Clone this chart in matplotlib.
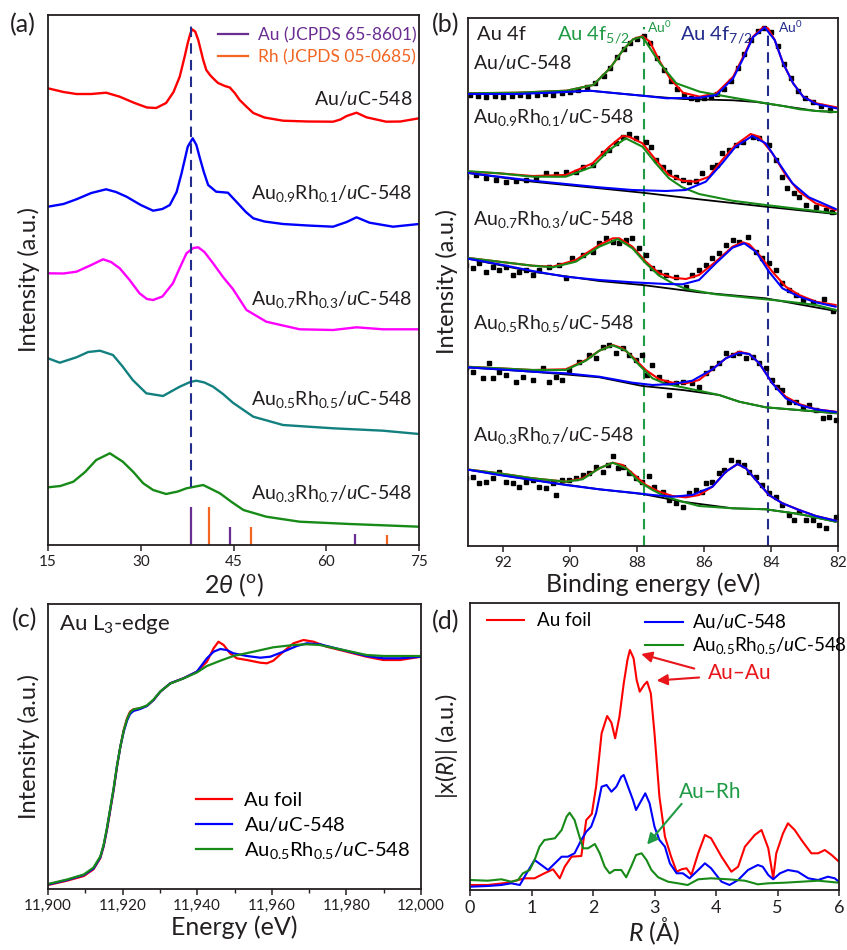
import matplotlib
matplotlib.use("Agg")
import matplotlib.pyplot as plt
from matplotlib.lines import Line2D
from matplotlib.ticker import MultipleLocator, StrMethodFormatter

plt.rcParams['font.family'] = ['Lato', 'DejaVu Sans']
plt.rcParams['mathtext.fontset'] = 'custom'
plt.rcParams['mathtext.rm'] = 'Lato'
plt.rcParams['mathtext.it'] = 'Lato:italic'
plt.rcParams['mathtext.bf'] = 'Lato:bold'
plt.rcParams['axes.linewidth'] = 1.3

RED = '#FF0000'
BLUE = '#0000FF'
MAGENTA = '#FF00FF'
TEAL = '#12807F'
GREEN = '#178A17'
PURPLE = '#6A2D91'
ORANGE = '#F26522'
DGREEN = '#1F9A45'
NAVY = '#222C8C'
TXT = '#231F20'

# ---------------- (a) XRD ----------------
XRD_LABELS = ['Au/$u$C-548',
              'Au$_{0.9}$Rh$_{0.1}$/$u$C-548',
              'Au$_{0.7}$Rh$_{0.3}$/$u$C-548',
              'Au$_{0.5}$Rh$_{0.5}$/$u$C-548',
              'Au$_{0.3}$Rh$_{0.7}$/$u$C-548']
XRD_LABEL_Y = [447, 352, 245, 146, 51]

AU1_TT = [15, 17.5, 19.6, 22, 24.4, 26.6, 29, 31, 32.5, 34.1, 35.3, 36.3, 37.1, 37.6, 38.0, 38.3, 38.8, 39.3,
          39.7, 40.1, 40.6, 41.2, 41.7, 42.5, 43.6, 44.4, 45.2, 46.0, 47.1, 48.2, 50, 53.0, 57, 61.1, 62.3,
          63.3, 64.9, 66.5, 69.7, 72, 75]
AU1_I = [456.7, 453, 451, 451, 452.3, 448.3, 442, 437.5, 437, 442, 453, 468.3, 488.3, 502, 511, 515.7, 513.5,
         505, 495, 485, 475, 470, 466.7, 462, 459, 457.5, 452, 445, 438.3, 432, 427.5, 424.3, 423.5, 423.3,
         425.5, 429, 432.3, 427.7, 423.3, 423.5, 426.7]

AR91_TT = [15, 17.5, 19.6, 22, 24.4, 26, 27.7, 30, 32.0, 33.5, 34.7, 35.8, 36.6, 37.6, 38.4, 39.0, 39.5,
           40.2, 40.9, 42.2, 44.1, 45.7, 47, 48.2, 50, 53.0, 57, 61.1, 63.3, 64.9, 67.0, 70.8, 75]
AR91_I = [338.3, 341, 345.7, 352, 355.7, 353, 348.3, 340, 334.3, 336, 340, 353, 371.7, 398.3, 406.7, 400,
          388.3, 373, 360, 353.3, 352.3, 341.7, 333, 326.7, 323.5, 321, 319.5, 318.3, 323, 327.7, 322.3,
          318.3, 321]

AR73_TT = [15, 17.5, 19.6, 22, 23.9, 25.2, 26.6, 28.2, 29.8, 31, 32.0, 33.5, 35.2, 36.3, 37.4, 38.5, 39.3,
           40.3, 41.7, 43.3, 44.9, 47.1, 50.3, 55.7, 61.1, 64.9, 69.2, 75]
AR73_I = [271.7, 271.5, 273.3, 280, 285.7, 283, 276.7, 265, 251.7, 246, 245, 248.5, 261.7, 277, 291.7, 297,
          297.7, 293, 281.7, 268, 256, 235, 223.3, 215.7, 215, 217.7, 215.7, 215.7]

AR55_TT = [15, 16.9, 19.6, 21.5, 23.4, 25.5, 27, 28.7, 30.9, 33.6, 36.3, 38.0, 39.0, 40.3, 41.7, 43.3, 44.9,
           48.2, 53.0, 61.1, 69.2, 75]
AR55_I = [186.7, 182.3, 187.7, 193, 194.3, 190, 179, 165, 151.7, 149, 158.3, 163, 164.3, 162.5, 158.3, 151,
          142.3, 128.3, 120, 116.7, 114.3, 111]

AR37_TT = [15, 17, 19.1, 21, 22.8, 25.0, 27.1, 28.8, 30.4, 32, 34.1, 36, 37.4, 40.1, 42.8, 44.7, 46.6, 50.3,
           55.7, 63.8, 75]
AR37_I = [57.7, 59, 63.3, 73, 85, 91.7, 83.3, 73, 61.7, 55, 51, 53.5, 56.7, 60, 51.7, 43, 35, 28.3, 23.3,
          21, 18.3]

AU_REF_TT = [38.2, 44.4, 64.6]
AU_REF_H = [37.7, 17.7, 11]
RH_REF_TT = [41.1, 47.8, 69.9]
RH_REF_H = [38, 17.7, 10]
AU111 = 38.2

# ---------------- (b) XPS ----------------
S1_BE = [93.0, 92.75, 92.5, 92.25, 92.0, 91.75, 91.5, 91.25, 91.0, 90.75, 90.5, 90.25, 90.0, 89.75, 89.5,
         89.25, 89.0, 88.8, 88.6, 88.4, 88.2, 88.0, 87.8, 87.6, 87.4, 87.2, 87.0, 86.8, 86.6, 86.4, 86.2,
         86.0, 85.8, 85.6, 85.4, 85.2, 85.0, 84.8, 84.6, 84.4, 84.2, 84.0, 83.8, 83.6, 83.4, 83.2, 83.0,
         82.75, 82.5, 82.25]
S1_Y = [451, 450, 449, 450, 449, 450, 451, 450, 451, 452, 451, 453, 454, 456, 459, 463, 470, 478, 489, 497,
        503, 507, 510, 503, 488, 476, 465, 457, 451, 448, 447, 448, 449, 452, 457, 465, 478, 492, 506, 515,
        518, 514, 500, 482, 468, 455, 448, 444, 440, 436]
S1_ENV_BE = [93.04, 91.6, 90.11, 89.31, 88.81, 88.42, 88.12, 87.84, 87.62, 87.32, 87.02, 86.63, 86.13, 85.63,
             85.13, 84.83, 84.54, 84.24, 84.09, 83.89, 83.64, 83.34, 83.04, 82.65, 82.05]
S1_ENV_Y = [452.7, 453.3, 455.3, 461, 477.7, 496, 506.7, 510, 504.3, 484.3, 467.7, 453.3, 449.3, 452.7,
            469.3, 489.3, 509.3, 518.7, 517.7, 506, 482.7, 462.7, 449.3, 442.7, 438.7]
S1_G_BE = [93.04, 91.6, 90.11, 89.31, 88.81, 88.42, 88.12, 87.84, 87.32, 86.83, 86.13, 85.13, 84.14, 83.64,
           83.14, 82.64, 82.05]
S1_G_Y = [452.7, 453.3, 455.3, 461, 477.7, 496, 506.7, 509.3, 482.7, 462.7, 454.3, 448.3, 442.7, 440,
          436.7, 435, 434]
S1_B_BE = [93.04, 91.6, 90.61, 89.41, 88.61, 87.84, 87.12, 86.13, 85.63, 85.13, 84.83, 84.54, 84.19, 83.89,
           83.64, 83.34, 83.04, 82.65, 82.05]
S1_B_Y = [452, 452, 453.3, 455.3, 452.7, 450.3, 447.7, 448.3, 451, 467.7, 487.7, 508.7, 518.7, 506, 482.7,
          462.7, 449.3, 442, 437.7]
S1_K_BE = [93.04, 90.61, 89.41, 87.84, 86.63, 85.13, 84.44, 83.64, 82.65, 82.05]
S1_K_Y = [452, 453.3, 455.3, 450.3, 447, 445.7, 444, 440, 435, 434]

S2_BE = [93.11, 92.81, 92.51, 92.21, 91.92, 91.62, 91.32, 91.02, 90.72, 90.42, 90.13, 89.83, 89.63, 89.33,
         89.03, 88.83, 88.63, 88.43, 88.24, 88.04, 87.74, 87.59, 87.44, 87.24, 87.04, 86.84, 86.64, 86.44,
         86.25, 86.05, 85.75, 85.60, 85.45, 85.25, 85.05, 84.85, 84.55, 84.35, 84.06, 83.86, 83.66, 83.51,
         83.31, 83.16, 82.96, 82.66, 82.36, 82.17]
S2_Y = [369.3, 371, 367.7, 366, 364.3, 365.3, 366, 367.7, 372.7, 372, 374.3, 374.3, 379.3, 381, 392.7, 396,
        402.7, 409.3, 412, 407.7, 404.3, 399.3, 386, 379.3, 374.3, 369.3, 366, 364.3, 365.3, 373.3, 379.3,
        381, 392.7, 396, 401, 404.3, 409.3, 407.7, 401, 386, 369.3, 357.7, 352.7, 349.3, 341, 339.3, 336,
        334.3]
S2_ENV_BE = [93.11, 92.12, 91.12, 90.13, 89.33, 88.83, 88.44, 88.24, 87.84, 87.44, 87.05, 86.65, 86.25,
             85.85, 85.46, 85.06, 84.61, 84.36, 83.96, 83.56, 83.16, 82.67, 82.07]
S2_ENV_Y = [374.3, 372.7, 370, 371, 382.7, 399.3, 410, 409.3, 402.7, 386, 371, 365.3, 364.3, 369.3, 386,
            401, 412, 409.3, 392.7, 371, 354.3, 342.7, 336]
S2_G_BE = [93.11, 92.12, 91.12, 90.13, 89.33, 88.83, 88.34, 87.84, 87.44, 87.05, 86.65, 86.15, 85.16, 84.16,
           83.16, 82.07]
S2_G_Y = [375, 372.7, 369.3, 369.3, 379.3, 396, 407.7, 399.3, 382.7, 367.7, 358.7, 352, 345.3, 341, 337,
          332.7]
S2_B_BE = [93.11, 92.12, 91.12, 90.13, 89.13, 88.14, 87.14, 86.55, 85.95, 85.46, 85.06, 84.56, 84.16, 83.76,
           83.36, 82.87, 82.07]
S2_B_Y = [373.3, 369.3, 365.3, 362, 358.7, 356, 355, 356, 364.3, 382.7, 399.3, 410, 402.7, 382.7, 362.7,
          348.7, 337]
S2_K_BE = [93.11, 91.12, 89.13, 87.84, 86.15, 84.16, 82.07]
S2_K_Y = [373.3, 364.3, 357.7, 353.3, 346.7, 339.3, 332]

S3_BE = [93.11, 92.91, 92.71, 92.51, 92.31, 92.12, 91.92, 91.72, 91.52, 91.32, 91.12, 90.92, 90.62, 90.33,
         90.13, 89.93, 89.63, 89.33, 89.13, 88.93, 88.73, 88.53, 88.33, 88.14, 87.94, 87.74, 87.54, 87.34,
         87.14, 86.84, 86.54, 86.35, 86.15, 85.95, 85.75, 85.55, 85.35, 85.15, 84.95, 84.70, 84.45, 84.26,
         84.06, 83.86, 83.66, 83.46, 83.26, 83.06, 82.76, 82.41, 82.16]
S3_Y = [281, 277.7, 282.7, 274.3, 279.3, 276, 279.3, 271, 274.3, 276, 271, 276, 279.3, 281, 267.7, 287.7,
        291, 294.3, 302.7, 307.7, 304.3, 302.7, 306, 307.7, 297.7, 291, 277.7, 274.3, 271, 269.3, 259.3, 271,
        276, 281, 287.7, 292.7, 301, 306, 304.3, 309.3, 294.3, 287.7, 282.7, 276, 262.7, 256, 251, 246,
        244.3, 247, 235]
S3_ENV_BE = [93.11, 92.12, 91.12, 90.52, 89.83, 89.13, 88.73, 88.53, 88.14, 87.74, 87.34, 86.94, 86.54,
             86.15, 85.65, 85.15, 84.85, 84.65, 84.35, 83.96, 83.56, 83.16, 82.66, 82.07]
S3_ENV_Y = [288.3, 284.3, 280.3, 279.3, 286, 301, 307.7, 307.7, 299.3, 284.3, 272.7, 268.3, 267, 271, 284.3,
            299.3, 303.7, 301.7, 291, 274.3, 259.3, 251, 244.3, 241]
S3_G_BE = [93.11, 92.12, 91.12, 90.52, 89.83, 89.13, 88.58, 88.14, 87.74, 87.34, 86.94, 86.54, 85.65, 84.65,
           83.66, 82.66, 82.07]
S3_G_Y = [288.3, 284.3, 280.3, 278.7, 284.3, 299.3, 307, 297.7, 282.7, 270.3, 262.7, 257, 251.7, 248.3, 245,
          241, 236]
S3_B_BE = [93.11, 92.12, 91.12, 90.13, 89.13, 88.14, 87.14, 86.64, 86.15, 85.65, 85.15, 84.80, 84.45, 84.06,
           83.66, 83.16, 82.66, 82.07]
S3_B_Y = [287.7, 281.7, 275, 269.3, 266, 263.7, 262, 261.7, 266, 282.7, 298.3, 302.7, 294.3, 274.3, 257.7,
          249.3, 243.7, 239.3]
S3_K_BE = [93.11, 91.12, 89.13, 87.84, 86.15, 84.16, 82.07]
S3_K_Y = [287.7, 274.3, 265, 261, 253.7, 247.7, 235]

S4_BE = [93.11, 92.91, 92.61, 92.41, 92.31, 92.12, 91.92, 91.62, 91.42, 91.12, 90.82, 90.62, 90.42, 90.23,
         90.03, 89.73, 89.43, 89.23, 89.03, 88.83, 88.63, 88.43, 88.24, 88.04, 87.84, 87.69, 87.54, 87.34,
         87.14, 87.04, 86.84, 86.64, 86.35, 86.15, 85.95, 85.75, 85.55, 85.35, 85.15, 84.95, 84.75, 84.55,
         84.35, 84.16, 83.96, 83.81, 83.66, 83.46, 83.26, 83.06, 82.86, 82.66, 82.46, 82.27, 82.07]
S4_Y = [177.7, 174.3, 167.7, 182.7, 167.7, 174.3, 171, 164.3, 169.3, 166, 177.7, 164.3, 169.3, 166, 176,
        184.3, 191, 187.7, 199.3, 201, 192.7, 197.7, 191, 186, 191, 171, 181, 169.3, 164.3, 151, 162.7,
        164.3, 162.7, 159.3, 172.7, 177.7, 182.7, 192.7, 191, 192.7, 187.7, 189.3, 182.7, 177.7, 166, 159.3,
        156, 144.3, 144.3, 139.3, 141, 136, 127.7, 129.3, 126]
S4_ENV_BE = [93.11, 92.12, 91.12, 90.13, 89.53, 89.13, 88.73, 88.43, 88.14, 87.74, 87.34, 86.94, 86.54,
             86.15, 85.75, 85.35, 84.95, 84.65, 84.35, 83.96, 83.56, 83.16, 82.66, 82.07]
S4_ENV_Y = [179.3, 177.7, 176, 176.7, 186, 195.3, 201, 197.7, 189.3, 176, 166.7, 163.3, 162.7, 166, 176.7,
            187.7, 194.3, 192, 182.7, 162.7, 149.3, 142, 136.7, 134.3]
S4_G_BE = [93.11, 92.12, 91.12, 90.13, 89.53, 89.13, 88.73, 88.33, 87.94, 87.54, 87.14, 86.64, 86.15, 85.55,
           84.95, 84.16, 83.16, 82.07]
S4_G_Y = [179.3, 177.7, 176, 176, 185.3, 195.3, 200.7, 195.3, 181, 167.7, 162, 158.7, 155.3, 151, 144.3,
          138.7, 136, 133]
S4_B_BE = [93.11, 92.12, 91.12, 90.13, 89.13, 88.14, 87.54, 86.94, 86.35, 85.75, 85.35, 84.95, 84.65, 84.35,
           83.96, 83.56, 83.16, 82.66, 82.07]
S4_B_Y = [178.7, 176.7, 174.3, 172.7, 169.3, 163.3, 161, 162, 165.3, 176.7, 187.7, 193.3, 192, 182.7, 162.7,
          147.7, 141, 136.7, 134]
S4_K_BE = [93.11, 91.12, 89.13, 87.84, 86.64, 85.55, 84.95, 84.16, 82.07]
S4_K_Y = [178.7, 174.3, 168.7, 160, 156, 151, 144.3, 138.7, 132.7]

S5_BE = [93.11, 92.91, 92.71, 92.51, 92.31, 92.12, 91.92, 91.72, 91.52, 91.32, 91.12, 90.92, 90.72, 90.52,
         90.42, 90.23, 90.03, 89.83, 89.63, 89.43, 89.23, 89.03, 88.88, 88.73, 88.58, 88.43, 88.24, 88.04,
         87.84, 87.64, 87.49, 87.24, 87.04, 86.84, 86.64, 86.45, 86.25, 86.05, 85.95, 85.75, 85.55, 85.40,
         85.20, 85.00, 84.80, 84.65, 84.45, 84.26, 84.06, 83.86, 83.66, 83.46, 83.31, 83.16, 82.96, 82.76,
         82.56, 82.36, 82.07]
S5_Y = [67.7, 69.3, 62.7, 64.3, 67.7, 74.3, 64.3, 62.7, 59.3, 64.3, 66, 59.3, 57.7, 62.7, 51, 66, 66, 67.7,
        71, 72.7, 79.3, 74.3, 81, 90, 77.7, 79.3, 72.7, 67.7, 64.3, 70, 59.3, 54.3, 46, 42.7, 39.3, 52.7, 56,
        54.3, 62.7, 64.3, 72.7, 76, 86, 84.3, 81, 74.3, 69.3, 61, 52.7, 49.3, 41, 31, 26, 34.3, 26, 26, 21,
        17.7, 29.3]
S5_ENV_BE = [93.11, 92.12, 91.12, 90.13, 89.63, 89.13, 88.73, 88.43, 88.14, 87.74, 87.34, 86.94, 86.54,
             86.15, 85.75, 85.35, 85.00, 84.75, 84.45, 84.06, 83.66, 83.16, 82.66, 82.07]
S5_ENV_Y = [76.7, 72.7, 67.7, 64.3, 67.7, 77.7, 83.3, 81, 72.7, 61, 54.3, 50, 48.7, 51, 59.3, 74.3, 82, 77.7,
            66, 51, 42.7, 36, 30, 25.3]
S5_G_BE = [93.11, 92.12, 91.12, 90.13, 89.63, 89.13, 88.73, 88.33, 87.94, 87.54, 87.14, 86.64, 86.15, 85.15,
           84.16, 83.16, 82.07]
S5_G_Y = [76.7, 72.7, 67.7, 64.3, 66.7, 77.7, 83.3, 77.7, 64.3, 56, 49.3, 44.3, 40, 37.7, 36.7, 32, 24.3]
S5_B_BE = [93.11, 92.12, 91.12, 90.13, 89.13, 88.14, 87.54, 86.94, 86.35, 85.75, 85.35, 85.00, 84.75, 84.45,
           84.06, 83.66, 83.16, 82.66, 82.07]
S5_B_Y = [76.7, 71, 66, 61, 56.7, 53.3, 51, 49.3, 51, 59.3, 74.3, 82, 77.7, 66, 51, 42.7, 36, 30, 25.3]
S5_K_BE = [93.11, 91.12, 89.13, 87.84, 86.64, 85.15, 84.16, 83.16, 82.07]
S5_K_Y = [76.7, 66, 56.7, 52, 44.3, 37.7, 36.7, 32, 24.3]

XPS_LABEL_Y = [484, 428, 326, 223, 111]
AU0_52 = 87.8
AU0_72 = 84.1

# ---------------- (c) XANES ----------------
XAN_FOIL_E = [11900, 11905.1, 11909.6, 11912.2, 11914.0, 11914.9, 11915.8, 11916.7, 11917.6, 11918.5,
              11919.4, 11920.3, 11921.2, 11922.0, 11922.9, 11924.7, 11926.5, 11928.3, 11930.1, 11932.8,
              11936.3, 11939.9, 11942.6, 11944.4, 11945.7, 11947.1, 11948.8, 11950.6, 11953.3, 11956.9,
              11958.7, 11960.4, 11963.1, 11965.8, 11968.5, 11971.2, 11974.7, 11980.1, 11985.4, 11989.9,
              11994.4, 12000]
XAN_FOIL_I = [4, 8.3, 13, 19.7, 30.7, 42.3, 59, 79, 99, 122.3, 142.3, 159, 170.7, 177.3, 179.7, 180.7, 183,
              189, 197.3, 205.7, 210.7, 217.3, 227.3, 240.7, 247.3, 244, 235.7, 230.7, 229, 226.3, 225.7,
              228.3, 237.3, 245.7, 249, 247.3, 242.3, 237.3, 232.3, 229, 229, 232.3]
XAN_AU_E = [11900, 11905.1, 11909.6, 11912.2, 11914.0, 11914.9, 11915.8, 11916.7, 11917.6, 11918.5,
            11919.4, 11920.3, 11921.2, 11922.0, 11922.9, 11924.7, 11926.5, 11928.3, 11930.1, 11932.8,
            11936.3, 11939.9, 11942.6, 11944.4, 11946.2, 11947.9, 11949.7, 11953.3, 11956.9, 11959.6,
            11963.1, 11966.7, 11969.4, 11972.9, 11980.1, 11985.4, 11989.9, 11994.4, 12000]
XAN_AU_I = [4.5, 9, 14, 20.5, 31.5, 43, 60, 80, 100, 123, 142.3, 157.5, 168.5, 175, 178, 180, 183, 189,
            197.3, 205.7, 210.7, 217.3, 230.7, 237.3, 240, 239, 235.7, 233, 231.3, 232.3, 237.3, 243,
            245.7, 244.7, 238, 233, 230.7, 230.7, 232.3]
XAN_AR_E = [11900, 11905.1, 11909.6, 11912.2, 11914.0, 11914.9, 11915.8, 11916.7, 11917.6, 11918.5,
            11919.4, 11920.3, 11921.2, 11922.0, 11922.9, 11924.7, 11926.5, 11928.3, 11930.1, 11932.8,
            11936.3, 11939.9, 11942.6, 11946.2, 11949.7, 11955.1, 11960.4, 11965.8, 11969.4, 11972.9,
            11980.1, 11985.4, 11989.9, 12000]
XAN_AR_I = [5, 9.5, 14.5, 21.5, 32.5, 44, 61, 81, 101, 123.5, 142.5, 158.5, 170, 176.5, 179.5, 181, 183.5,
            189.5, 197.5, 205.5, 210.5, 216.5, 223, 228.3, 233, 237.3, 241.7, 244, 244.7, 244, 238.3, 234,
            233, 233]

# ---------------- (d) EXAFS ----------------
FT_FOIL_R = [0.0, 0.29, 0.62, 0.89, 1.05, 1.21, 1.35, 1.46, 1.54, 1.65, 1.81, 1.89, 1.98, 2.05, 2.14, 2.23,
             2.30, 2.36, 2.43, 2.50, 2.56, 2.60, 2.66, 2.71, 2.76, 2.83, 2.88, 2.94, 3.00, 3.08, 3.17, 3.27,
             3.36, 3.44, 3.52, 3.60, 3.71, 3.82, 3.92, 4.09, 4.25, 4.36, 4.47, 4.63, 4.74, 4.85, 4.93, 4.98,
             5.09, 5.17, 5.28, 5.39, 5.55, 5.66, 5.77, 5.88, 6.0]
FT_FOIL_M = [5, 5, 7.3, 11.7, 11.7, 16.7, 20.7, 11.7, 23.3, 33.3, 34, 70, 76, 103.3, 156.7, 174, 167.3,
             151.7, 173.3, 206.7, 230, 240, 231.7, 210, 198.3, 205, 208.3, 196.7, 156.7, 93.3, 53.3, 33.3,
             18.3, 20.7, 21.7, 15, 36.7, 55, 51.7, 33.3, 18.3, 23.3, 43.3, 55, 60, 41.7, 11.7, 36.7, 56.7,
             66.7, 60, 50, 36.7, 36.7, 40, 35, 28.3]
FT_AU_R = [0.0, 0.29, 0.51, 0.67, 0.81, 0.92, 1.05, 1.16, 1.27, 1.38, 1.49, 1.59, 1.70, 1.81, 1.89, 1.97,
           2.05, 2.14, 2.22, 2.30, 2.38, 2.46, 2.50, 2.57, 2.65, 2.70, 2.79, 2.85, 2.92, 3.00, 3.08, 3.17,
           3.25, 3.36, 3.46, 3.57, 3.71, 3.82, 3.92, 4.09, 4.22, 4.36, 4.52, 4.68, 4.76, 4.85, 4.93, 5.04,
           5.17, 5.33, 5.50, 5.66, 5.82, 5.93, 6.0]
FT_AU_M = [3.3, 4, 5, 6.7, 5, 16.7, 30, 25, 20, 26.7, 33.3, 33.3, 36.7, 50, 58.3, 63.3, 76.7, 103.3, 105,
           98.3, 103.3, 113.3, 115, 103.3, 90, 80, 90, 96.7, 86.7, 63.3, 50, 43.3, 26.7, 16.7, 16.7, 11.7,
           20, 26.7, 21.7, 8.3, 5, 10, 20, 25, 23.3, 15, 10.7, 16.7, 20, 18.3, 11.7, 10, 13.3, 11.7, 8.3]
FT_AR_R = [0.0, 0.29, 0.51, 0.67, 0.78, 0.86, 0.97, 1.05, 1.13, 1.21, 1.38, 1.49, 1.57, 1.62, 1.70, 1.78,
           1.84, 1.92, 2.03, 2.11, 2.19, 2.27, 2.35, 2.46, 2.54, 2.62, 2.70, 2.79, 2.87, 2.95, 3.06, 3.22,
           3.38, 3.54, 3.71, 3.92, 4.20, 4.47, 4.68, 4.85, 5.12, 5.39, 5.66, 6.0]
FT_AR_M = [10, 9.3, 10.7, 8.3, 10, 16.7, 20, 30, 43.3, 50, 51.7, 60, 73.3, 77.3, 70, 53.3, 41.7, 41.7, 46,
           36.7, 23.3, 16.7, 20, 20, 12.7, 23.3, 35, 36.7, 30, 20, 12.7, 8.3, 6.7, 5, 10.7, 11.7, 10.7,
           9.3, 5.7, 6.7, 7.3, 8.3, 9.3, 7.3]

W, H = 847, 950
fig = plt.figure(figsize=(W / 100, H / 100), dpi=100)


def box(l, t, r, b):
    return [l / W, 1 - b / H, (r - l) / W, (b - t) / H]


ax_a = fig.add_axes(box(48, 15, 419, 545))
ax_b = fig.add_axes(box(468, 18, 838, 546))
ax_c = fig.add_axes(box(48, 604, 421, 889))
ax_d = fig.add_axes(box(470, 603, 839, 890))

for ax in (ax_a, ax_b, ax_c, ax_d):
    ax.tick_params(direction='out', length=4, width=1.1, labelsize=11, colors=TXT, pad=3)
    for s in ax.spines.values():
        s.set_color(TXT)

# ---- (a)
lw = 1.7
for tt, ii, c in [(AU1_TT, AU1_I, RED), (AR91_TT, AR91_I, BLUE), (AR73_TT, AR73_I, MAGENTA),
                  (AR55_TT, AR55_I, TEAL), (AR37_TT, AR37_I, GREEN)]:
    ax_a.plot(tt, ii, color=c, lw=lw)
ax_a.vlines(AU_REF_TT, 0, AU_REF_H, color=PURPLE, lw=1.6)
ax_a.vlines(RH_REF_TT, 0, RH_REF_H, color=ORANGE, lw=1.6)
ax_a.vlines(AU111, 58, 522, color=NAVY, lw=1.5, linestyles=(0, (5, 3)))
for lab, y in zip(XRD_LABELS, XRD_LABEL_Y):
    ax_a.text(73.9, y, lab, ha='right', va='center', fontsize=14, color=TXT)
h = [Line2D([], [], color=PURPLE, lw=1.6), Line2D([], [], color=ORANGE, lw=1.6)]
ax_a.legend(h, ['Au (JCPDS 65-8601)', 'Rh (JCPDS 05-0685)'], loc='upper left',
            bbox_to_anchor=(0.44, 0.99), frameon=False, fontsize=12.5, handlelength=1.7,
            handletextpad=0.6, labelspacing=0.35, borderaxespad=0, labelcolor='linecolor')
ax_a.set_xlim(15, 75)
ax_a.set_ylim(0, 530)
ax_a.set_yticks([])
ax_a.set_xticks([15, 30, 45, 60, 75])
ax_a.set_xlabel(r'2$\theta$ ($^{\rm o}$)', fontsize=18, color=TXT, labelpad=2)
ax_a.set_ylabel('Intensity (a.u.)', fontsize=17, color=TXT)
ax_a.yaxis.set_label_coords(-0.022, 0.5)

# ---- (b)
spectra = [
    (S1_BE, S1_Y, S1_ENV_BE, S1_ENV_Y, S1_G_BE, S1_G_Y, S1_B_BE, S1_B_Y, S1_K_BE, S1_K_Y),
    (S2_BE, S2_Y, S2_ENV_BE, S2_ENV_Y, S2_G_BE, S2_G_Y, S2_B_BE, S2_B_Y, S2_K_BE, S2_K_Y),
    (S3_BE, S3_Y, S3_ENV_BE, S3_ENV_Y, S3_G_BE, S3_G_Y, S3_B_BE, S3_B_Y, S3_K_BE, S3_K_Y),
    (S4_BE, S4_Y, S4_ENV_BE, S4_ENV_Y, S4_G_BE, S4_G_Y, S4_B_BE, S4_B_Y, S4_K_BE, S4_K_Y),
    (S5_BE, S5_Y, S5_ENV_BE, S5_ENV_Y, S5_G_BE, S5_G_Y, S5_B_BE, S5_B_Y, S5_K_BE, S5_K_Y),
]
for be, y, ebe, ey, gbe, gy, bbe, by, kbe, ky in spectra:
    ax_b.plot(be, y, 's', color='black', ms=3.1, zorder=2)
    ax_b.plot(kbe, ky, color='black', lw=1.3, zorder=3)
    ax_b.plot(ebe, ey, color=RED, lw=1.5, zorder=4)
    ax_b.plot(gbe, gy, color=GREEN, lw=1.5, zorder=5)
    ax_b.plot(bbe, by, color=BLUE, lw=1.5, zorder=5)
ax_b.vlines(AU0_52, 0, 519, color=DGREEN, lw=1.5, linestyles=(0, (5, 3)), zorder=1)
ax_b.vlines(AU0_72, 0, 512, color=NAVY, lw=1.5, linestyles=(0, (5, 3)), zorder=1)
for lab, y in zip(XRD_LABELS, XPS_LABEL_Y):
    ax_b.text(92.9, y, lab, ha='left', va='center', fontsize=14, color=TXT)
ax_b.text(92.78, 511, 'Au 4f', ha='left', va='center', fontsize=14.5, color=TXT)
ax_b.text(90.4, 511, 'Au 4f$_{5/2}$', ha='left', va='center', fontsize=14.5, color=DGREEN)
ax_b.text(87.7, 519, 'Au$^0$', ha='left', va='center', fontsize=10, color=DGREEN)
ax_b.text(86.73, 511, 'Au 4f$_{7/2}$', ha='left', va='center', fontsize=14.5, color=NAVY)
ax_b.text(83.8, 519, 'Au$^0$', ha='left', va='center', fontsize=10, color=NAVY)
ax_b.set_xlim(93.05, 82)
ax_b.set_ylim(0, 528)
ax_b.set_yticks([])
ax_b.set_xticks([92, 90, 88, 86, 84, 82])
ax_b.set_xlabel('Binding energy (eV)', fontsize=18, color=TXT, labelpad=2)
ax_b.set_ylabel('Intensity (a.u.)', fontsize=17, color=TXT)
ax_b.yaxis.set_label_coords(-0.027, 0.5)

# ---- (c)
ax_c.plot(XAN_FOIL_E, XAN_FOIL_I, color=RED, lw=1.6, label='Au foil')
ax_c.plot(XAN_AU_E, XAN_AU_I, color=BLUE, lw=1.6, label='Au/$u$C-548')
ax_c.plot(XAN_AR_E, XAN_AR_I, color=GREEN, lw=1.6, label='Au$_{0.5}$Rh$_{0.5}$/$u$C-548')
ax_c.legend(loc='upper left', bbox_to_anchor=(0.375, 0.37), frameon=False, fontsize=14.5,
            handlelength=1.8, handletextpad=0.6, labelspacing=0.3, borderaxespad=0)
ax_c.text(0.03, 0.93, 'Au L$_3$-edge', transform=ax_c.transAxes, ha='left', va='center',
          fontsize=16, color=TXT)
ax_c.set_xlim(11900, 12000)
ax_c.set_ylim(0, 285)
ax_c.set_yticks([])
ax_c.xaxis.set_major_locator(MultipleLocator(20))
ax_c.xaxis.set_minor_locator(MultipleLocator(10))
ax_c.xaxis.set_major_formatter(StrMethodFormatter('{x:,.0f}'))
ax_c.tick_params(which='minor', direction='out', length=3, width=1.0, colors=TXT)
ax_c.set_xlabel('Energy (eV)', fontsize=18, color=TXT, labelpad=2)
ax_c.set_ylabel('Intensity (a.u.)', fontsize=17, color=TXT)
ax_c.yaxis.set_label_coords(-0.021, 0.5)

# ---- (d)
l1, = ax_d.plot(FT_FOIL_R, FT_FOIL_M, color=RED, lw=1.5)
l2, = ax_d.plot(FT_AU_R, FT_AU_M, color=BLUE, lw=1.5)
l3, = ax_d.plot(FT_AR_R, FT_AR_M, color=GREEN, lw=1.5)
leg1 = ax_d.legend([l1], ['Au foil'], loc='upper left', bbox_to_anchor=(0.02, 1.0), frameon=False,
                   fontsize=13.5, handlelength=2.0, handletextpad=0.7, borderaxespad=0.1)
ax_d.add_artist(leg1)
ax_d.legend([l2, l3], ['Au/$u$C-548', 'Au$_{0.5}$Rh$_{0.5}$/$u$C-548'], loc='upper left',
            bbox_to_anchor=(0.45, 1.0), frameon=False, fontsize=13.5, handlelength=2.0,
            handletextpad=0.5, labelspacing=0.2, borderaxespad=0.1)
arrow_r = dict(arrowstyle='-|>', color='#E8161B', lw=1.5, mutation_scale=16)
ax_d.annotate('', xy=(2.74, 236.7), xytext=(3.69, 220.7), arrowprops=arrow_r)
ax_d.annotate('', xy=(2.99, 209.3), xytext=(3.77, 212.7), arrowprops=arrow_r)
ax_d.text(3.87, 217, 'Au\u2013Au', ha='left', va='center', fontsize=15, color='#E8161B')
ax_d.annotate('', xy=(2.85, 43.3), xytext=(3.47, 88.3),
              arrowprops=dict(arrowstyle='-|>', color=DGREEN, lw=1.5, mutation_scale=16))
ax_d.text(3.39, 98.3, 'Au\u2013Rh', ha='left', va='center', fontsize=15, color=DGREEN)
ax_d.set_xlim(0, 6)
ax_d.set_ylim(0, 287)
ax_d.set_yticks([])
ax_d.set_xticks([0, 1, 2, 3, 4, 5, 6])
ax_d.tick_params(labelsize=13)
ax_d.set_xlabel('$R$ (\u00c5)', fontsize=18, color=TXT, labelpad=0)
ax_d.set_ylabel('|x($R$)| (a.u.)', fontsize=17, color=TXT)
ax_d.yaxis.set_label_coords(-0.027, 0.5)

for lab, x, y in [('(a)', 10, 25), ('(b)', 432, 25), ('(c)', 12, 620), ('(d)', 432, 622)]:
    fig.text(x / W, 1 - y / H, lab, ha='left', va='center', fontsize=18, color=TXT)

fig.savefig('out.png', dpi=100)
